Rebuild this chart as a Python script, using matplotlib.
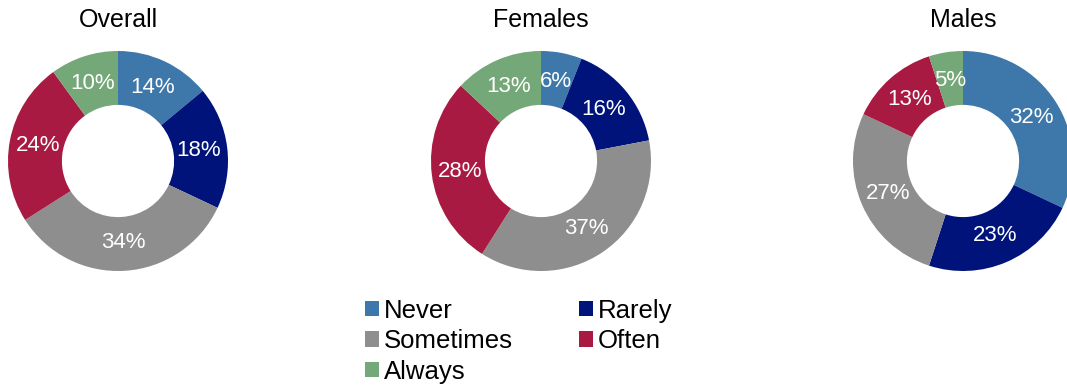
import matplotlib
matplotlib.use("Agg")
from matplotlib import pyplot as plt
from matplotlib.patches import Patch

plt.rcParams['font.family'] = ['Liberation Sans', 'DejaVu Sans']

categories = ["Never", "Rarely", "Sometimes", "Often", "Always"]
colors = ["#3E78AA", "#00137A", "#8E8E8E", "#A81A42", "#75A878"]

groups = ["Overall", "Females", "Males"]
overall = [14, 18, 34, 24, 10]
females = [6, 16, 37, 28, 13]
males = [32, 23, 27, 13, 5]

W, H = 1067, 392
fig = plt.figure(figsize=(W / 100, H / 100), dpi=100)
ax = fig.add_axes([0, 0, 1, 1])

centers_x = [118, 541, 963]
cy = H - 161
radius = 110

for name, vals, cx in zip(groups, [overall, females, males], centers_x):
    wedges, texts, autotexts = ax.pie(
        vals, colors=colors, startangle=90, counterclock=False,
        center=(cx, cy), radius=radius, frame=True,
        wedgeprops=dict(width=radius * 0.49, linewidth=0),
        autopct=lambda p: f"{p:.0f}%", pctdistance=0.74,
        textprops=dict(color="white", fontsize=16))
    ax.text(cx, H - 20, name, ha='center', va='center', fontsize=18, color='black')

ax.set_xlim(0, W)
ax.set_ylim(0, H)
ax.set_aspect('equal')
ax.axis('off')

order = [0, 2, 4, 1, 3]
handles = [Patch(facecolor=colors[i], edgecolor='none', label=categories[i]) for i in order]
fig.legend(handles=handles, ncol=2, loc='upper left',
           bbox_to_anchor=(352 / W, 1 - 286 / H), frameon=False,
           fontsize=18.5, handlelength=0.55, handleheight=0.55,
           handletextpad=0.2, columnspacing=2.55, labelspacing=0.25,
           borderpad=0)

fig.savefig("out.png", dpi=100)
